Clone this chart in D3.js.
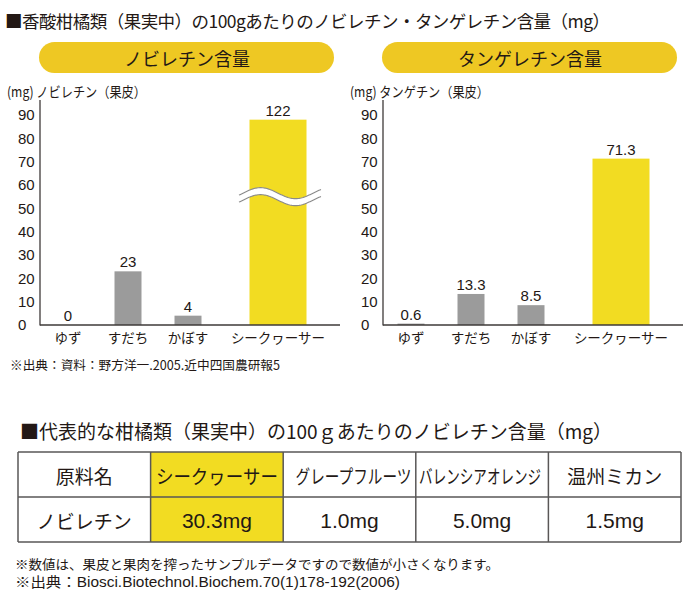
<!DOCTYPE html>
<html><head><meta charset="utf-8">
<script src="https://cdn.jsdelivr.net/npm/d3@7"></script>
<style>
body{margin:0;background:#fff;}
svg{display:block;background:#fff;}
text{font-family:"Liberation Sans","Noto Sans CJK JP",sans-serif;fill:#231815;}
.jp{font-family:"Noto Sans CJK JP","Liberation Sans",sans-serif;}
</style></head><body>
<svg id="c" width="700" height="603"></svg>
<script>
// ---- data ----
const categories = ["ゆず", "すだち", "かぼす", "シークヮーサー"];
const nobiletin = [0, 23, 4, 122];
const tangeretin = [0.6, 13.3, 8.5, 71.3];
const yTicks = [0, 10, 20, 30, 40, 50, 60, 70, 80, 90];
const highlight = "シークヮーサー";
const mainTitle = "香酸柑橘類（果実中）の100gあたりのノビレチン・タンゲレチン含量（mg）";
const pillLabels = ["ノビレチン含量", "タンゲレチン含量"];
const axisTitles = ["(mg) ノビレチン（果皮）", "(mg) タンゲチン（果皮）"];
const chartSource = "※出典：資料：野方洋一.2005.近中四国農研報5";
const tableTitle = "代表的な柑橘類（果実中）の100ｇあたりのノビレチン含量（mg）";
const tableHeader = ["原料名", "シークヮーサー", "グレープフルーツ", "バレンシアオレンジ", "温州ミカン"];
const tableRow = ["ノビレチン", "30.3mg", "1.0mg", "5.0mg", "1.5mg"];
const footnotes = [
  "※数値は、果皮と果肉を搾ったサンプルデータですので数値が小さくなります。",
  "※出典：Biosci.Biotechnol.Biochem.70(1)178-192(2006)"
];

// ---- style constants ----
const PILL = "#EEC823";
const YELLOW = "#F2DC22";
const GRAY = "#9b9b9b";
const axisMax = 90, breakCap = 88, breakAt = 55;

const svg = d3.select("#c");

// main title
const t1 = svg.append("text").attr("class", "jp").attr("x", 5).attr("y", 28)
  .style("font-size", "17.5px");
t1.append("tspan").text("■");
t1.append("tspan").text(mainTitle);
t1.attr("textLength", 605).attr("lengthAdjust", "spacing");

function drawChart(axisX, values, axisTitle, pillLabel) {
  const g = svg.append("g");
  const x = d3.scaleLinear().domain([0, 5]).range([axisX - 2, axisX + 298]);
  const slot = i => categories[i] === highlight ? 4 : i + 0.5;
  const bw = i => categories[i] === highlight ? 57 : 27;
  const y = d3.scaleLinear().domain([0, axisMax]).range([325, 115]);

  // pill header
  g.append("rect").attr("x", axisX - 1).attr("y", 42).attr("width", 295).attr("height", 31)
    .attr("rx", 15.5).attr("fill", PILL);
  g.append("text").attr("class", "jp").attr("x", axisX + 147).attr("y", 58)
    .attr("text-anchor", "middle").attr("dominant-baseline", "central")
    .style("font-size", "18px").text(pillLabel);

  // axis title
  g.append("text").attr("class", "jp").attr("x", axisX - 33).attr("y", 97)
    .style("font-size", "14px").text(axisTitle)
    .attr("textLength", 139).attr("lengthAdjust", "spacingAndGlyphs");

  // y axis labels
  const ax = g.append("g").attr("transform", `translate(${axisX},0)`)
    .call(d3.axisLeft(y).tickValues(yTicks).tickSize(0).tickPadding(0));
  ax.select(".domain").remove();
  ax.attr("font-family", null).attr("font-size", null);
  ax.selectAll("text").attr("text-anchor", "start").attr("x", -22).style("font-size", "15px");

  // bars
  const shown = d => d > axisMax ? breakCap : d;
  g.selectAll("rect.bar").data(values).join("rect").attr("class", "bar")
    .attr("x", (d, i) => x(slot(i)) - bw(i) / 2)
    .attr("width", (d, i) => bw(i))
    .attr("y", d => y(shown(d)))
    .attr("height", d => y(0) - y(shown(d)))
    .attr("fill", (d, i) => categories[i] === highlight ? YELLOW : GRAY);

  // break marks
  values.forEach((d, i) => {
    if (d <= axisMax) return;
    const cx = x(slot(i));
    const yc = y(breakAt);
    const x0 = cx - 39, x1 = cx + 43, P = 70, A = 5.5, th = 7;
    const pts = d3.range(x0, x1 + 0.5, 1);
    const top = pts.map(px => [px, yc - th / 2 - A * Math.sin(2 * Math.PI * (px - (x0 + 4)) / P)]);
    const bot = top.map(p => [p[0], p[1] + th]);
    const line = d3.line();
    g.append("path").attr("d", line(top.concat(bot.slice().reverse())) + "Z")
      .attr("fill", "#fff");
    g.append("path").attr("d", line(top)).attr("fill", "none").attr("stroke", "#8a8a8a").attr("stroke-width", 1.1);
    g.append("path").attr("d", line(bot)).attr("fill", "none").attr("stroke", "#8a8a8a").attr("stroke-width", 1.1);
  });

  // value labels
  g.selectAll("text.val").data(values).join("text").attr("class", "val")
    .attr("x", (d, i) => x(slot(i)))
    .attr("y", d => y(shown(d)) - 4)
    .attr("text-anchor", "middle").style("font-size", "15px")
    .text(d => String(d));

  // axes lines
  g.append("line").attr("x1", axisX).attr("x2", axisX).attr("y1", 100).attr("y2", 325.5)
    .attr("stroke", "#3e3a39").attr("stroke-width", 1.3);
  g.append("line").attr("x1", axisX).attr("x2", axisX + 300).attr("y1", 325).attr("y2", 325)
    .attr("stroke", "#3e3a39").attr("stroke-width", 1.3);

  // category labels
  g.selectAll("text.cat").data(categories).join("text").attr("class", "cat jp")
    .attr("x", (d, i) => x(slot(i)))
    .attr("y", 343).attr("text-anchor", "middle").style("font-size", "13.5px")
    .text(d => d);
}

drawChart(40, nobiletin, axisTitles[0], pillLabels[0]);
drawChart(383, tangeretin, axisTitles[1], pillLabels[1]);

// chart source
svg.append("text").attr("class", "jp").attr("x", 10).attr("y", 370)
  .style("font-size", "12.5px").attr("textLength", 270).attr("lengthAdjust", "spacingAndGlyphs")
  .text(chartSource);

// table title
const t2 = svg.append("text").attr("class", "jp").attr("x", 20).attr("y", 439)
  .style("font-size", "19px");
t2.append("tspan").text("■");
t2.append("tspan").text(tableTitle);

// table
const colX = d3.scaleBand().domain(d3.range(tableHeader.length)).range([18, 681]);
const rowY = d3.scaleBand().domain([0, 1]).range([452, 542]);
const rows = [tableHeader, tableRow];
const hiCol = tableHeader.indexOf(highlight);
rows.forEach((row, r) => {
  row.forEach((cell, c) => {
    svg.append("rect").attr("x", colX(c)).attr("y", rowY(r))
      .attr("width", colX.bandwidth()).attr("height", rowY.bandwidth())
      .attr("fill", c === hiCol ? YELLOW : "#fff");
  });
});
rows.forEach((row, r) => {
  row.forEach((cell, c) => {
    const isNum = /\d/.test(cell);
    const fs = isNum ? 21 : 19;
    const cx = colX(c) + colX.bandwidth() / 2 + (r === 0 && c === 3 ? -2 : (r === 0 && c === 2 ? 4 : 0));
    const cy = rowY(r) + rowY.bandwidth() / 2 + 1;
    const t = svg.append("text").attr("class", isNum ? null : "jp")
      .attr("x", 0).attr("y", 0)
      .attr("transform", `translate(${cx},${cy})`)
      .attr("text-anchor", "middle").attr("dominant-baseline", "central")
      .style("font-size", fs + "px").text(cell);
    const w = t.node().getComputedTextLength();
    const maxW = colX.bandwidth() - 12;
    if (w > maxW) {
      const target = c === 2 ? 116 : 122;
      const k = target / w;
      t.style("font-size", (fs * k) + "px")
        .attr("transform", `translate(${cx},${cy}) scale(1,${1 / k})`);
    }
  });
});
// grid lines
const gridStroke = "#595757";
d3.range(tableHeader.length + 1).forEach(c => {
  const xx = c < tableHeader.length ? colX(c) : colX.range()[1];
  svg.append("line").attr("x1", xx).attr("x2", xx).attr("y1", 452).attr("y2", 542)
    .attr("stroke", gridStroke).attr("stroke-width", 1.5);
});
[452, 497, 542].forEach(yy => {
  svg.append("line").attr("x1", 18).attr("x2", 681).attr("y1", yy).attr("y2", yy)
    .attr("stroke", gridStroke).attr("stroke-width", 1.5);
});

// footnotes
svg.append("text").attr("class", "jp").attr("x", 15).attr("y", 569)
  .style("font-size", "13px").attr("textLength", 484).attr("lengthAdjust", "spacingAndGlyphs")
  .text(footnotes[0]);
svg.append("text").attr("x", 15).attr("y", 587)
  .style("font-size", "14px").attr("textLength", 385).attr("lengthAdjust", "spacingAndGlyphs")
  .text(footnotes[1]);
</script>
</body></html>
